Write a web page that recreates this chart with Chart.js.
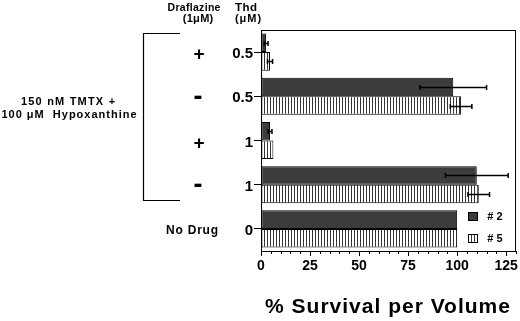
<!DOCTYPE html>
<html><head><meta charset="utf-8">
<script src="https://cdn.jsdelivr.net/npm/chart.js@4.4.0/dist/chart.umd.min.js"></script>
<style>html,body{margin:0;padding:0;background:#fff;}canvas{display:block;}</style>
</head><body>
<canvas id="c" width="520" height="321"></canvas>
<script>
const thdLabels = ['0.5', '0.5', '1', '1', '0'];
const draflazine = ['+', '-', '+', '-', 'No Drug'];
const series2 = [2.6, 98, 4.6, 110, 100];
const err2 = [1, 17, 1, 16, 0];
const series5 = [4.6, 102, 6.3, 111, 100];
const err5 = [1.3, 5.5, 0, 5.5, 0];
const xTicks = [0, 25, 50, 75, 100, 125];
const seriesNames = ['#2', '#5'];
const xTitle = '% Survival per Volume';

const FONT = "'Liberation Sans', Arial, Helvetica, sans-serif";

function hatch() {
  const p = document.createElement('canvas');
  p.width = 3; p.height = 4;
  const g = p.getContext('2d');
  g.fillStyle = '#fff'; g.fillRect(0, 0, 3, 4);
  g.fillStyle = '#333'; g.fillRect(0, 0, 1, 4);
  return g.createPattern(p, 'repeat');
}
const ctx0 = document.getElementById('c').getContext('2d');
const hatchPat = hatch();
const darkCol = '#3c3c3c';

function txt(ctx, s, x, y, size, ls) {
  ctx.font = 'bold ' + size + 'px ' + FONT;
  ctx.letterSpacing = (ls || 0) + 'px';
  const w = ctx.measureText(s).width;
  ctx.textAlign = 'left';
  ctx.fillText(s, x - (w - (ls || 0)) / 2, y);
}

const annot = {
  id: 'annot',
  afterDatasetsDraw(chart) {
    const {ctx, chartArea: ca, scales: {x, y}} = chart;
    ctx.save();
    // box
    ctx.strokeStyle = '#000'; ctx.lineWidth = 1;
    ctx.strokeRect(ca.left + 0.5, ca.top + 0.5, ca.right - ca.left - 1, ca.bottom - ca.top);
    // minor ticks
    ctx.beginPath();
    for (let v = 5; v <= 130; v += 5) {
      if (v % 25 === 0) continue;
      const px = Math.round(x.getPixelForValue(v)) + 0.5;
      ctx.moveTo(px, ca.bottom); ctx.lineTo(px, ca.bottom + 3);
    }
    ctx.stroke();
    // error bars
    const sets = [[series2, err2], [series5, err5]];
    sets.forEach(([vals, errs], di) => {
      const meta = chart.getDatasetMeta(di);
      meta.data.forEach((bar, i) => {
        const e = errs[i];
        if (!e) return;
        const cy = Math.round(bar.y) + 0.5;
        const x1 = x.getPixelForValue(vals[i] - e);
        const x2 = x.getPixelForValue(vals[i] + e);
        ctx.beginPath();
        ctx.lineWidth = 1.5;
        ctx.moveTo(x1, cy); ctx.lineTo(x2, cy);
        ctx.moveTo(x1, cy - 2.5); ctx.lineTo(x1, cy + 2.5);
        ctx.moveTo(x2, cy - 2.5); ctx.lineTo(x2, cy + 2.5);
        ctx.stroke();
      });
    });
    // legend
    ctx.lineWidth = 1;
    const lx = 468, ly = [212, 234];
    ctx.textBaseline = 'middle';
    [darkCol, hatchPat].forEach((f, i) => {
      ctx.fillStyle = f;
      ctx.fillRect(lx, ly[i], 9, 8);
      ctx.strokeRect(lx + 0.5, ly[i] + 0.5, 9, 8);
      ctx.fillStyle = '#000';
      txt(ctx, seriesNames[i].replace('#', '# '), 495, ly[i] + 5, 11, 0);
    });
    // headers
    ctx.fillStyle = '#000';
    txt(ctx, 'Draflazine', 194, 8, 10.5, 0.3);
    txt(ctx, '(1\u03bcM)', 198, 19, 11, 0.3);
    txt(ctx, 'Thd', 246, 8, 11.5, 0.5);
    txt(ctx, '(\u03bcM)', 248, 19, 11, 1);
    // draflazine labels
    draflazine.forEach((t, i) => {
      const py = y.getPixelForValue(i);
      if (t === 'No Drug') {
        txt(ctx, t, 192, py + 2, 12, 0.8);
      } else if (t === '+') {
        txt(ctx, '+', 199, py + 3, 19, 0);
      } else {
        txt(ctx, '-', 198, py + 1, 27, 0);
      }
    });
    // group label
    txt(ctx, '150 nM TMTX +', 68, 102, 11, 1.2);
    txt(ctx, '100 \u03bcM  Hypoxanthine', 69, 115, 11, 1.0);
    // bracket
    ctx.lineWidth = 1.2;
    ctx.beginPath();
    ctx.moveTo(180, 33.5); ctx.lineTo(143.5, 33.5); ctx.lineTo(143.5, 200.5); ctx.lineTo(180, 200.5);
    ctx.stroke();
    // x title
    ctx.textBaseline = 'alphabetic';
    txt(ctx, xTitle, (ca.left + ca.right) / 2 - 1, 313, 21, 1);
    ctx.restore();
  }
};

new Chart(ctx0, {
  type: 'bar',
  data: {
    labels: thdLabels,
    datasets: [
      {label: seriesNames[0], data: series2, backgroundColor: darkCol, borderColor: '#000', borderWidth: 1, borderSkipped: false},
      {label: seriesNames[1], data: series5, backgroundColor: hatchPat, borderColor: '#000', borderWidth: 1, borderSkipped: false}
    ]
  },
  options: {
    indexAxis: 'y',
    responsive: false,
    animation: false,
    categoryPercentage: 0.84,
    barPercentage: 1.0,
    layout: {padding: {left: 221, top: 30, right: 3, bottom: 0}},
    plugins: {legend: {display: false}, tooltip: {enabled: false}},
    scales: {
      x: {
        min: 0, max: 130,
        afterBuildTicks(s) { s.ticks = xTicks.map(v => ({value: v})); },
        afterFit(s) { s.height = 70; },
        grid: {display: true, drawOnChartArea: false, tickLength: 5, color: '#000'},
        border: {color: '#000', width: 1},
        ticks: {color: '#000', font: {family: FONT, size: 14, weight: 'bold'}, padding: 2, maxRotation: 0},
        title: {display: false}
      },
      y: {
        afterFit(s) { s.width = 40; },
        grid: {display: true, drawOnChartArea: false, tickLength: 7, color: '#000', offset: false},
        border: {color: '#000', width: 1},
        ticks: {color: '#000', font: {family: FONT, size: 15, weight: 'bold'}, padding: 1, labelOffset: 2}
      }
    }
  },
  plugins: [annot]
});
</script>
</body></html>
